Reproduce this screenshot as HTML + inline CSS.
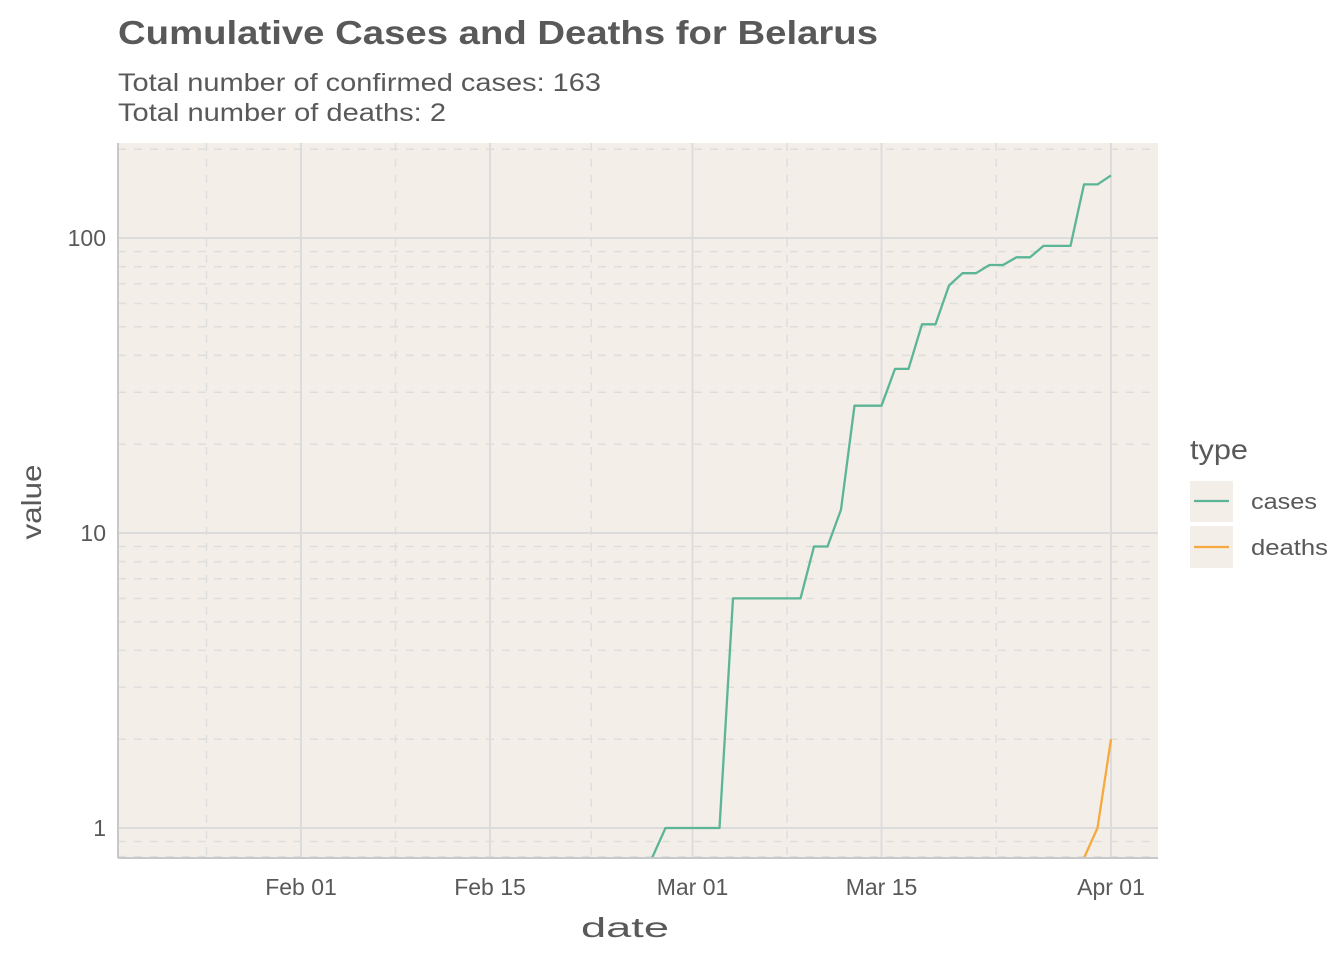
<!DOCTYPE html>
<html><head><meta charset="utf-8"><style>
html,body{margin:0;padding:0;background:#fff;}
svg{display:block;font-family:"Liberation Sans",Arial,sans-serif;}
</style></head><body>
<svg id="chart" width="1344" height="960" xmlns="http://www.w3.org/2000/svg">
<text x="118" y="44" font-size="33" font-weight="bold" fill="#595959" textLength="760" lengthAdjust="spacingAndGlyphs">Cumulative Cases and Deaths for Belarus</text>
<text x="118" y="91" font-size="25" fill="#595959" textLength="483" lengthAdjust="spacingAndGlyphs">Total number of confirmed cases: 163</text>
<text x="118" y="121" font-size="25" fill="#595959" textLength="328" lengthAdjust="spacingAndGlyphs">Total number of deaths: 2</text>
<rect x="118" y="143" width="1040" height="715" fill="#F3EEE7"/>
<g id="grid"></g>
<g id="series"></g>
<line x1="118" y1="143" x2="118" y2="858" stroke="#C8C8C8" stroke-width="2"/>
<line x1="118" y1="858" x2="1158" y2="858" stroke="#C8C8C8" stroke-width="2"/>
<g id="ticks"></g>
<text x="625" y="937" font-size="28" fill="#595959" text-anchor="middle" textLength="88" lengthAdjust="spacingAndGlyphs">date</text>
<text x="0" y="0" font-size="28" fill="#595959" text-anchor="middle" textLength="75" lengthAdjust="spacingAndGlyphs" transform="translate(41,502) rotate(-90)">value</text>
<g>
<text x="1190" y="459" font-size="28" fill="#595959" textLength="58" lengthAdjust="spacingAndGlyphs">type</text>
<rect x="1190" y="481" width="43" height="41" fill="#F3EEE7"/>
<line x1="1194" y1="501" x2="1229" y2="501" stroke="#5BB596" stroke-width="2.2"/>
<text x="1251" y="509" font-size="22" fill="#595959" textLength="66" lengthAdjust="spacingAndGlyphs">cases</text>
<rect x="1190" y="526" width="43" height="42" fill="#F3EEE7"/>
<line x1="1194" y1="547" x2="1229" y2="547" stroke="#F5A93E" stroke-width="2.2"/>
<text x="1251" y="555" font-size="22" fill="#595959" textLength="77" lengthAdjust="spacingAndGlyphs">deaths</text>
</g>
</svg>
<script>
// data (dates from Feb 27 to Apr 01, 2020)
const dates = ["2020-02-27","2020-02-28","2020-02-29","2020-03-01","2020-03-02","2020-03-03","2020-03-04","2020-03-05","2020-03-06","2020-03-07","2020-03-08","2020-03-09","2020-03-10","2020-03-11","2020-03-12","2020-03-13","2020-03-14","2020-03-15","2020-03-16","2020-03-17","2020-03-18","2020-03-19","2020-03-20","2020-03-21","2020-03-22","2020-03-23","2020-03-24","2020-03-25","2020-03-26","2020-03-27","2020-03-28","2020-03-29","2020-03-30","2020-03-31","2020-04-01"];
const cases = [0,1,1,1,1,1,6,6,6,6,6,6,9,9,12,27,27,27,36,36,51,51,69,76,76,81,81,86,86,94,94,94,152,152,163];
const deaths = [0,0,0,0,0,0,0,0,0,0,0,0,0,0,0,0,0,0,0,0,0,0,0,0,0,0,0,0,0,0,0,0,0,1,2];
const xTickLabels = ["Feb 01","Feb 15","Mar 01","Mar 15","Apr 01"];
const xTickDates = ["2020-02-01","2020-02-15","2020-03-01","2020-03-15","2020-04-01"];
const xMinorDates = ["2020-01-25","2020-02-08","2020-02-22T12:00:00","2020-03-08","2020-03-23T12:00:00"];
const yTicks = [1,10,100];
const yTickLabels = ["1","10","100"];

const NS="http://www.w3.org/2000/svg";
const P={l:118,r:1158,t:143,b:858};
const t0=Date.parse("2020-02-01T00:00:00Z"), t1=Date.parse("2020-04-01T00:00:00Z");
function x(d){const t=Date.parse(d.length>10?d+"Z":d+"T00:00:00Z");return 301+(t-t0)/(t1-t0)*810;}
function y(v){if(v<=0)return P.b;return 238-295*(Math.log10(v)-2);}
function mk(tag,attrs,parent){const e=document.createElementNS(NS,tag);for(const k in attrs)e.setAttribute(k,attrs[k]);parent.appendChild(e);return e;}
const grid=document.getElementById('grid'), ticks=document.getElementById('ticks'), series=document.getElementById('series');
for(let k=-1;k<=2;k++)for(let m=2;m<=9;m++){const v=m*Math.pow(10,k);const yy=y(v);if(yy<P.t||yy>P.b)continue;
 const l=mk('line',{x1:P.l,x2:P.r,y1:yy,y2:yy,stroke:'#DEDEDE','stroke-width':1.5,'stroke-dasharray':'8,8'},grid);
 
 }
xMinorDates.forEach(d=>{const xx=x(d);const l=mk('line',{x1:xx,x2:xx,y1:P.t,y2:P.b,stroke:'#DEDEDE','stroke-width':1.5,'stroke-dasharray':'8,8'},grid);
 
 });
yTicks.forEach((v,i)=>{const yy=y(v);const l=mk('line',{x1:P.l,x2:P.r,y1:yy,y2:yy,stroke:'#DCDCDC','stroke-width':2},grid);
 
 
 const t=mk('text',{x:106,y:yy+8,'font-size':23,fill:'#595959','text-anchor':'end'},ticks);t.textContent=yTickLabels[i];
 
 });
xTickDates.forEach((d,i)=>{const xx=x(d);const l=mk('line',{x1:xx,x2:xx,y1:P.t,y2:P.b,stroke:'#DCDCDC','stroke-width':2},grid);
 
 
 const t=mk('text',{x:xx,y:895,'font-size':23,fill:'#595959','text-anchor':'middle'},ticks);t.textContent=xTickLabels[i];
 
 });
function line(vals,color,name){
 let s=vals.findIndex(v=>v>0);s=Math.max(0,s-1);
 const pts=[];for(let i=s;i<vals.length;i++)pts.push(x(dates[i]).toFixed(1)+','+y(vals[i]).toFixed(1));
 const p=mk('polyline',{points:pts.join(' '),fill:'none',stroke:color,'stroke-width':2.3,'stroke-linejoin':'round'},series);
 
 }
line(cases,'#5BB596','cases-line');
line(deaths,'#F5A93E','deaths-line');
</script>
</body></html>
